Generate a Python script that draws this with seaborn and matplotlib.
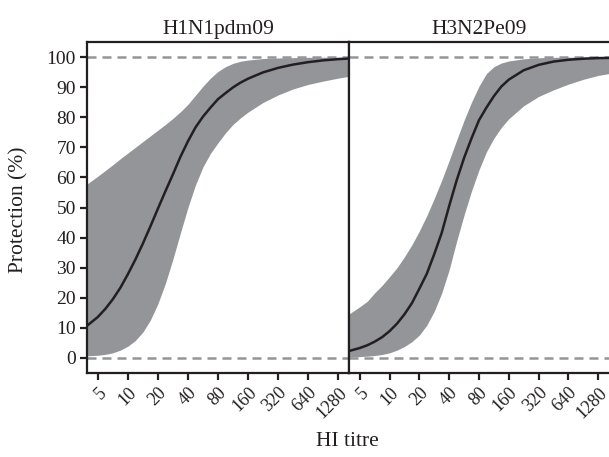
import numpy as np
import pandas as pd
import seaborn as sns
import matplotlib.pyplot as plt
from matplotlib.transforms import ScaledTranslation

# HI titre grid (quarter / half doubling steps) and the panels
titre = [3.9, 5, 5.95, 7.07, 8.41, 10, 11.9, 14.14, 16.82, 20, 23.8, 28.28, 33.6, 40, 47.6,
         56.6, 67.3, 80, 95.1, 113.1, 134.5, 160, 226, 320, 453, 640, 905, 1280, 1643]
tick_titres = [5, 10, 20, 40, 80, 160, 320, 640, 1280]
strains = ["H1N1pdm09", "H3N2Pe09"]

# protection (%)
h1_mean = [10.7, 13.6, 16.3, 19.5, 23.3, 27.8, 32.7, 38.0, 43.7, 49.6, 55.4, 61.0, 66.8, 72.0, 76.6,
           80.2, 83.2, 86.0, 88.0, 89.9, 91.5, 92.8, 94.9, 96.4, 97.5, 98.3, 98.9, 99.3, 99.5]
h1_upper = [57.8, 60.4, 62.3, 64.2, 66.2, 68.1, 70.0, 71.9, 73.8, 75.7, 77.6, 79.6, 81.8, 84.3, 87.3,
            90.3, 93.0, 95.2, 96.8, 97.9, 98.6, 99.0, 99.5, 99.7, 99.8, 99.9, 99.93, 99.95, 99.96]
h1_lower = [0.7, 0.9, 1.2, 1.7, 2.6, 3.9, 5.8, 8.6, 12.6, 18.0, 24.8, 32.8, 41.5, 50.0, 57.5,
            63.5, 68.0, 71.5, 74.8, 77.6, 79.8, 81.7, 84.9, 87.4, 89.4, 90.9, 92.0, 93.0, 93.6]

h3_mean = [2.3, 3.3, 4.2, 5.4, 6.9, 8.9, 11.4, 14.5, 18.2, 23.0, 28.0, 34.5, 41.5, 50.5, 59.0,
           66.5, 73.0, 79.0, 83.2, 87.0, 90.2, 92.5, 95.6, 97.4, 98.5, 99.1, 99.45, 99.65, 99.7]
h3_upper = [14.6, 17.0, 18.8, 21.6, 24.1, 27.0, 30.0, 33.6, 37.6, 42.2, 47.3, 53.0, 59.0, 65.6, 72.4,
            79.0, 85.0, 90.3, 94.5, 96.8, 98.0, 98.7, 99.4, 99.75, 99.9, 99.95, 99.97, 99.98, 99.99]
h3_lower = [0.3, 0.45, 0.6, 0.8, 1.15, 1.7, 2.6, 3.8, 5.4, 7.6, 10.9, 15.5, 21.5, 29.3, 38.8,
            47.5, 55.5, 62.5, 68.5, 73.0, 76.6, 79.5, 83.8, 86.9, 89.1, 91.0, 92.6, 93.9, 94.5]

df = pd.concat([
    pd.DataFrame({"titre": titre, "strain": strains[0], "mean": h1_mean, "lower": h1_lower, "upper": h1_upper}),
    pd.DataFrame({"titre": titre, "strain": strains[1], "mean": h3_mean, "lower": h3_lower, "upper": h3_upper}),
])

sns.set_theme(style="ticks")
plt.rcParams["font.family"] = ["Liberation Serif", "DejaVu Serif"]
ink = "#231f20"
grey = "#939598"

fig = plt.figure(figsize=(6.09, 4.57), dpi=100)
W, H = 609, 457
top, bottom = 42, 373
lefts = [87, 349]
widths = [262, 260]

# nudge the rotated x labels to the left so the last one stays inside the figure
shift = ScaledTranslation(-0.06, 0.01, fig.dpi_scale_trans)

for i, strain in enumerate(strains):
    ax = fig.add_axes([lefts[i] / W, (H - bottom) / H, widths[i] / W, (bottom - top) / H])
    d = df[df["strain"] == strain]
    ax.fill_between(d["titre"], d["lower"], d["upper"], color=grey, lw=0, zorder=1)
    ax.axhline(0, color=grey, lw=1.8, ls=(0, (3.6, 2.4)), zorder=2)
    ax.axhline(100, color=grey, lw=1.8, ls=(0, (3.6, 2.4)), zorder=2)
    sns.lineplot(data=d, x="titre", y="mean", color=ink, lw=1.8, ax=ax, zorder=3)

    ax.set_xscale("log", base=2)
    ax.set_xlim(3.9, 1643)
    ax.set_ylim(-5, 105)
    ax.set_xticks(tick_titres)
    ax.set_xticklabels([str(t) for t in tick_titres], rotation=45, ha="right",
                       rotation_mode="anchor", fontsize=13, color=ink)
    for lab in ax.get_xticklabels():
        lab.set_transform(lab.get_transform() + shift)
    ax.minorticks_off()
    ax.tick_params(axis="x", length=5, width=1.6, color=ink, pad=3)
    if i == 0:
        ax.set_yticks(range(0, 101, 10))
        ax.tick_params(axis="y", length=5, width=1.6, color=ink, labelsize=14, labelcolor=ink, pad=3)
    else:
        ax.set_yticks([])
    for s in ax.spines.values():
        s.set_color(ink)
        s.set_linewidth(1.6)
    if i == 1:
        ax.spines["right"].set_visible(False)
    ax.set_title(strain, fontsize=15.5, color=ink, pad=6)
    ax.set_xlabel("")
    ax.set_ylabel("")

fig.text(347 / W, 1 - 442 / H, "HI titre", ha="center", va="center", fontsize=15.5, color=ink)
fig.text(19 / W, 1 - 210 / H, "Protection (%)", ha="center", va="center", rotation=90, fontsize=15.5, color=ink)

fig.savefig("out.png", dpi=100)
